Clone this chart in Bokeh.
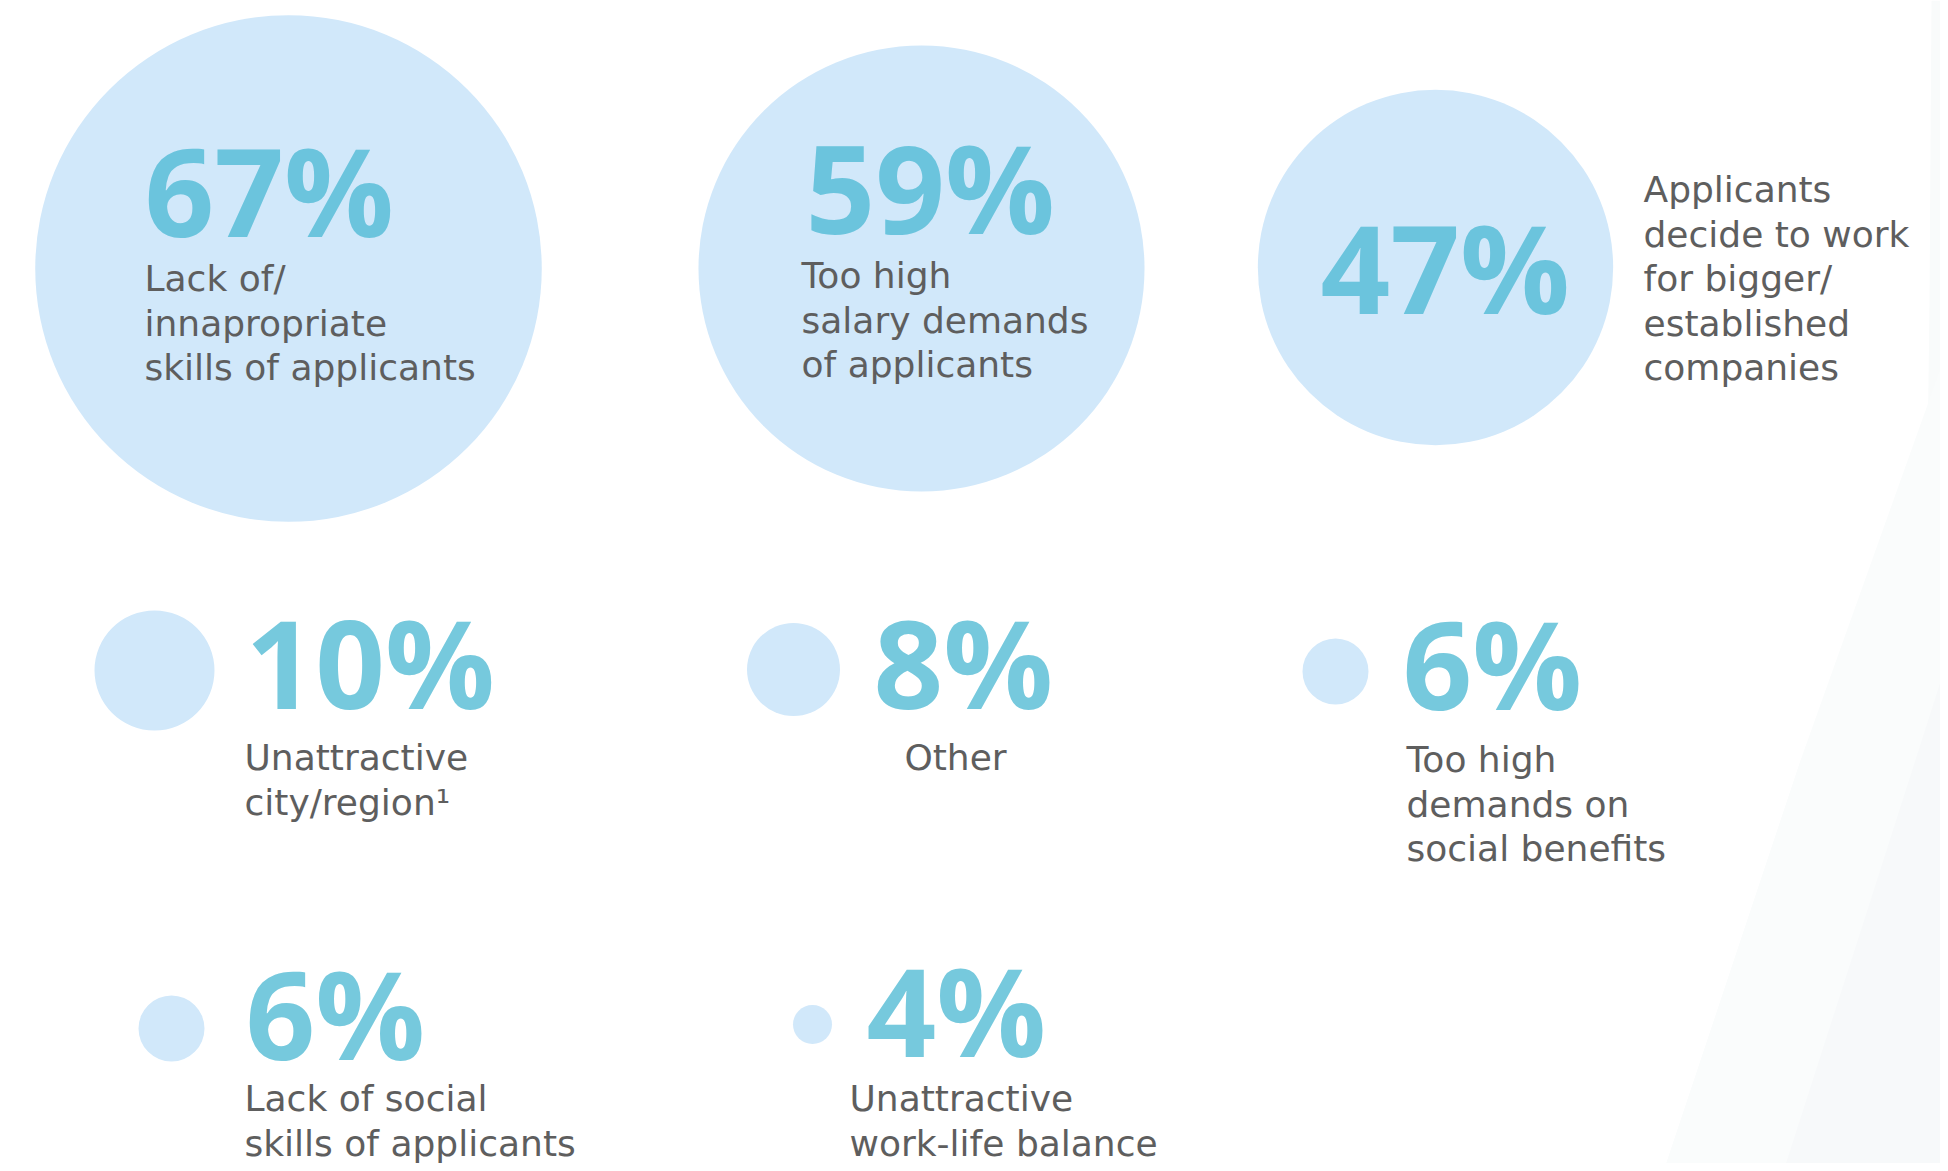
from bokeh.plotting import figure
from bokeh.models import Range1d, ColumnDataSource
from bokeh.embed import file_html
from bokeh.resources import INLINE
from bokeh.core.properties import value

# ---------------- data ----------------
values = [67, 59, 47, 10, 8, 6, 6, 4]
labels = [
    "Lack of/\ninnapropriate\nskills of applicants",
    "Too high\nsalary demands\nof applicants",
    "Applicants\ndecide to work\nfor bigger/\nestablished\ncompanies",
    "Unattractive\ncity/region\u00b9",
    "Other",
    "Too high\ndemands on\nsocial benefits",
    "Lack of social\nskills of applicants",
    "Unattractive\nwork-life balance",
]

# ---------------- layout (pixels) ----------------
tier = ["big", "big", "big", "small", "small", "small", "small", "small"]
cx = [288, 921, 1435, 154, 793, 1335, 171, 812]
cy = [268, 268, 267, 670, 669, 671, 1028, 1024]
num_x = [144, 805, 1320, 245, 873, 1402, 245, 866]
num_y = [235, 232, 312, 707, 707, 708, 1058, 1055]
lab_x = [144, 801, 1643, 244, 955, 1406, 244, 849]
lab_y = [291, 288, 202, 770, 770, 772, 1111, 1111]
lab_align = ["left", "left", "left", "left", "center", "left", "left", "left"]
LINE_H = 44.5

NUM_SIZE = 122
LAB_SIZE = 36
NUM_SHIFT = 0.37 * NUM_SIZE   # renderer's baseline correction
LAB_SHIFT = 0.36 * LAB_SIZE

CIRCLE = "#d1e8fa"
NUM_TOP = "#6bc4dd"
NUM_BOT = "#76c9dd"
LABEL = "#5e5e5e"


def radius(v, t):
    # bubble size scales with the share
    return 3.78 * v if t == "big" else 6.75 * v - 7.5


W, H = 1940, 1163
p = figure(width=W, height=H, output_backend="svg", toolbar_location=None,
           x_range=Range1d(0, W), y_range=Range1d(H, 0),
           min_border=0, tools="")
p.axis.visible = False
p.grid.visible = False
p.outline_line_color = None
p.background_fill_color = "white"
p.border_fill_color = "white"

# faint background shading on the right edge
p.patch([1931, 1950, 1950, 1915, 1924, 1929],
        [0, 0, 1180, 1180, 700, 300], fill_color="#f9fbfb", line_color=None)
p.patch([1950, 1950, 1660, 1800],
        [340, 1180, 1180, 760], fill_color="#fafcfc", line_color=None)
p.patch([1950, 1950, 1780, 1870],
        [650, 1180, 1180, 900], fill_color="#f7f9fa", line_color=None)

circ = ColumnDataSource(dict(x=cx, y=cy,
                             r=[radius(v, t) for v, t in zip(values, tier)]))
p.circle(x="x", y="y", radius="r", source=circ, fill_color=CIRCLE,
         line_color=None)

nums = ColumnDataSource(dict(
    x=num_x, y=[y - NUM_SHIFT for y in num_y], t=[f"{v}%" for v in values],
    c=[NUM_TOP if t == "big" else NUM_BOT for t in tier]))
p.text(x="x", y="y", text="t", source=nums, text_color="c",
       text_font=value("Open Sans"), text_font_style="bold",
       text_font_size=f"{NUM_SIZE}px", text_baseline="alphabetic",
       text_align="left")

lx, ly, lt, la = [], [], [], []
for x0, y0, lab, al in zip(lab_x, lab_y, labels, lab_align):
    for i, line in enumerate(lab.split("\n")):
        lx.append(x0)
        ly.append(y0 + i * LINE_H - LAB_SHIFT)
        lt.append(line)
        la.append(al)
labs = ColumnDataSource(dict(x=lx, y=ly, t=lt, a=la))
p.text(x="x", y="y", text="t", source=labs, text_color=LABEL,
       text_font=value("DejaVu Sans"), text_font_size=f"{LAB_SIZE}px",
       text_baseline="alphabetic", text_align="a")

open("out.html", "w").write(file_html(p, INLINE))
